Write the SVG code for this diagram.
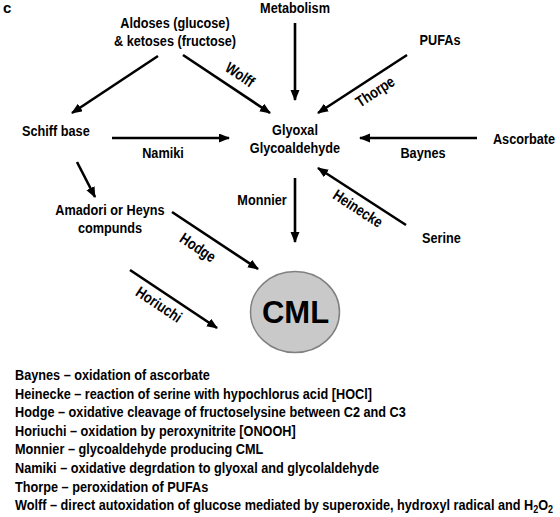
<svg xmlns="http://www.w3.org/2000/svg" width="560" height="517" viewBox="0 0 560 517">
<defs>
<marker id="ah" markerUnits="userSpaceOnUse" markerWidth="12" markerHeight="10" refX="10" refY="4.5" orient="auto">
<path d="M0,0 L11,4.5 L0,9 z" fill="#000"/>
</marker>
<style>
text{font-family:"Liberation Sans",Arial,sans-serif;font-weight:bold;font-size:15.5px;fill:#000}
.c{text-anchor:middle}
.e{text-anchor:end}
.conn line{stroke:#000;stroke-width:2.6;marker-end:url(#ah)}
</style>
</defs>
<rect width="560" height="517" fill="#fff"/>
<text x="3" y="13" style="font-size:15px">c</text>

<g id="aldoses"><text class="c" transform="translate(175,28) scale(0.82,1)">Aldoses (glucose)</text><text class="c" transform="translate(175,46) scale(0.82,1)">&amp; ketoses (fructose)</text></g>
<g id="metabolism"><text class="c" transform="translate(295,13) scale(0.82,1)">Metabolism</text></g>
<g id="pufas"><text class="c" transform="translate(440,45) scale(0.82,1)">PUFAs</text></g>
<g id="schiff"><text transform="translate(22,136) scale(0.82,1)">Schiff base</text></g>
<g id="glyoxal"><text class="c" transform="translate(295,135) scale(0.82,1)">Glyoxal</text><text class="c" transform="translate(295,153) scale(0.82,1)">Glycoaldehyde</text></g>
<g id="ascorbate"><text class="e" transform="translate(555,144) scale(0.82,1)">Ascorbate</text></g>
<g id="amadori"><text class="c" transform="translate(110,215) scale(0.82,1)">Amadori or Heyns</text><text class="c" transform="translate(110,233) scale(0.82,1)">compunds</text></g>
<g id="serine"><text transform="translate(422,243) scale(0.82,1)">Serine</text></g>
<g id="cml"><ellipse cx="295" cy="312" rx="44.5" ry="40.5" fill="#c9c9c9" stroke="#808080" stroke-width="1.5"/><text class="c" x="295.5" y="323" style="font-size:31px">CML</text></g>

<g class="conn" id="connectors">
<line x1="295" y1="23" x2="295" y2="100"/>
<line x1="158" y1="56" x2="72" y2="113"/>
<line x1="183" y1="55" x2="270" y2="113"/>
<line x1="407" y1="55" x2="318" y2="113"/>
<line x1="112" y1="138" x2="229" y2="138"/>
<line x1="477" y1="138" x2="360" y2="138"/>
<line x1="406" y1="225" x2="318" y2="168"/>
<line x1="295" y1="178" x2="295" y2="242"/>
<line x1="77" y1="162" x2="95" y2="197"/>
<line x1="172" y1="212" x2="258" y2="269"/>
<line x1="130" y1="270" x2="217" y2="328"/>
</g>
<g id="labels">
<text class="c" transform="translate(237,79) rotate(33.7) scale(0.82,1)">Wolff</text>
<text class="c" transform="translate(378,96) rotate(-33) scale(0.82,1)">Thorpe</text>
<text class="c" transform="translate(163,158) scale(0.82,1)">Namiki</text>
<text class="c" transform="translate(423,158) scale(0.82,1)">Baynes</text>
<text class="c" transform="translate(355,213) rotate(33) scale(0.82,1)">Heinecke</text>
<text class="c" transform="translate(262,205) scale(0.82,1)">Monnier</text>
<text class="c" transform="translate(195,252) rotate(33.5) scale(0.82,1)">Hodge</text>
<text class="c" transform="translate(156,309) rotate(33.7) scale(0.82,1)">Horiuchi</text>
</g>
<g id="legend">
<text transform="translate(15,380) scale(0.82,1)">Baynes – oxidation of ascorbate</text>
<text transform="translate(15,398.6) scale(0.82,1)">Heinecke – reaction of serine with hypochlorus acid [HOCl]</text>
<text transform="translate(15,417.2) scale(0.82,1)">Hodge – oxidative cleavage of fructoselysine between C2 and C3</text>
<text transform="translate(15,435.8) scale(0.82,1)">Horiuchi – oxidation by peroxynitrite [ONOOH]</text>
<text transform="translate(15,454.4) scale(0.82,1)">Monnier – glycoaldehyde producing CML</text>
<text transform="translate(15,473) scale(0.82,1)">Namiki – oxidative degrdation to glyoxal and glycolaldehyde</text>
<text transform="translate(15,491.6) scale(0.82,1)">Thorpe – peroxidation of PUFAs</text>
<text transform="translate(15,510.2) scale(0.82,1)">Wolff – direct autoxidation of glucose mediated by superoxide, hydroxyl radical and H<tspan dy="3" style="font-size:11px">2</tspan><tspan dy="-3">O</tspan><tspan dy="3" style="font-size:11px">2</tspan></text>
</g>
</svg>
